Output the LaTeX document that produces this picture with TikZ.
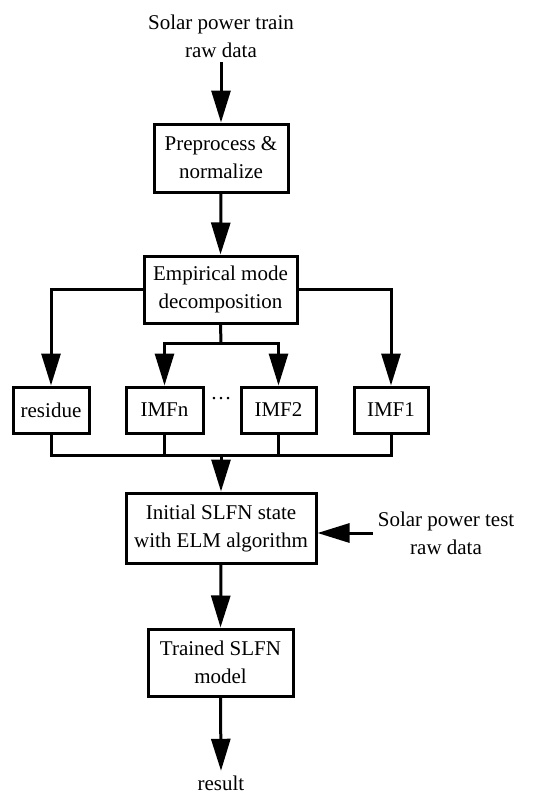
\documentclass[tikz,border=0pt]{standalone}
\usepackage{fontspec}
\setmainfont{Liberation Serif}
\usetikzlibrary{arrows.meta}
\newcommand*{\picW}{550}
\newcommand*{\picH}{796}

\begin{document}
\begin{tikzpicture}[x=1pt,y=-1pt,line width=3pt,
    every node/.style={font=\fontsize{21}{28}\selectfont,align=center},
    block/.style={draw,inner sep=0pt},
    arr/.style={-{Triangle[length=32pt,width=19pt]}}]
    \useasboundingbox (0,0) rectangle (\picW,\picH);

% main column
\node (src)  at (221,36) {Solar power train\\raw data};
\node [block,minimum width=134pt,minimum height=68pt] (pre) at (221,158) {Preprocess \&\\normalize};
\node [block,minimum width=153pt,minimum height=67pt] (emd) at (220.5,289.5) {Empirical mode\\decomposition};

% decomposed parts
\node [block,minimum width=76pt,minimum height=46pt] (res)  at (51,410)    {residue};
\node [block,minimum width=77pt,minimum height=46pt] (imfn) at (164.5,410) {IMFn};
\node [block,minimum width=75pt,minimum height=46pt] (imf2) at (278.5,410) {IMF2};
\node [block,minimum width=74pt,minimum height=46pt] (imf1) at (391,410)   {IMF1};
\node [anchor=base] (dots) at (221,399) {\ldots};

\node [block,minimum width=190pt,minimum height=70pt] (elm) at (221,528) {Initial SLFN state\\with ELM algorithm};
\node [anchor=west] (test) at (373,533) {Solar power test\\raw data};
\node [block,minimum width=145pt,minimum height=67pt] (trained) at (220.5,662.5) {Trained SLFN\\model};
\node (out) at (221,783) {result};

\coordinate (split) at (221,343);
\coordinate (join) at (221,455);

\draw [arr] (src.south) -- (pre.north);
\draw [arr] (pre.south) -- (emd.north);

\draw [arr] (emd.west) -| (res.north);
\draw [arr] (emd.east) -| (imf1.north);
\draw (emd.south) -- (split);
\draw [arr] (split) -| (imfn.north);
\draw [arr] (split) -| (imf2.north);

% \draw (res.south) -- (res.south |- join);
\draw (res.south) |- (join) -| (imf1.south);
\draw (imfn.south) -- (imfn.south |- join);
\draw (imf2.south) -- (imf2.south |- join);
\draw [arr] (join) -- (elm.north);

\draw [arr] (test.west) -- (test.west -| elm.east);
\draw [arr] (elm.south) -- (trained.north);
\draw [arr] (trained.south) -- (out.north);

\end{tikzpicture}
\end{document}
